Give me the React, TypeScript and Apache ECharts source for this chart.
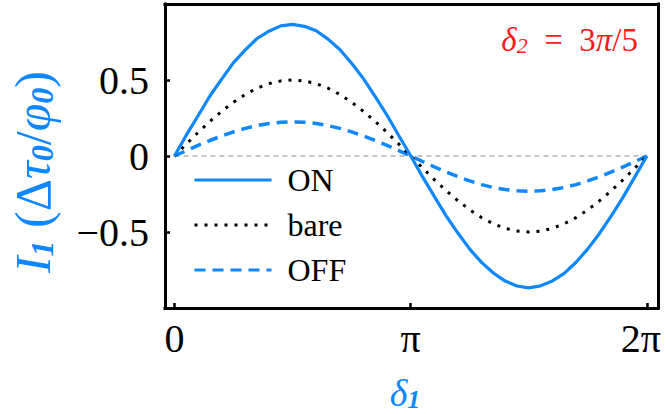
import React, { useEffect, useRef } from "react";
import * as echarts from "echarts";

// delta_1 in units of pi
const delta1: number[] = [
  0, 0.05, 0.1, 0.15, 0.2, 0.25, 0.3, 0.35, 0.4, 0.45, 0.5, 0.55, 0.6, 0.65, 0.7, 0.75, 0.8, 0.85, 0.9, 0.95, 1.0,
  1.05, 1.1, 1.15, 1.2, 1.25, 1.3, 1.35, 1.4, 1.45, 1.5, 1.55, 1.6, 1.65, 1.7, 1.75, 1.8, 1.85, 1.9, 1.95, 2.0,
];

const onValues: number[] = [
  0, 0.137, 0.265, 0.395, 0.506, 0.614, 0.698, 0.773, 0.821, 0.856, 0.866, 0.853, 0.824, 0.769, 0.701, 0.61, 0.509,
  0.391, 0.268, 0.133, 0.002, -0.136, -0.266, -0.394, -0.507, -0.613, -0.7, -0.77, -0.823, -0.855, -0.868, -0.854,
  -0.822, -0.772, -0.699, -0.611, -0.508, -0.392, -0.269, -0.134, 0,
];

const bareValues: number[] = [
  0, 0.078, 0.155, 0.227, 0.294, 0.354, 0.405, 0.446, 0.476, 0.494, 0.5, 0.494, 0.476, 0.446, 0.405, 0.354, 0.294,
  0.227, 0.155, 0.078, 0, -0.078, -0.155, -0.227, -0.294, -0.354, -0.405, -0.446, -0.476, -0.494, -0.5, -0.494,
  -0.476, -0.446, -0.405, -0.354, -0.294, -0.227, -0.155, -0.078, 0,
];

const offValues: number[] = [
  0, 0.035, 0.07, 0.102, 0.132, 0.159, 0.182, 0.2, 0.214, 0.222, 0.225, 0.222, 0.214, 0.2, 0.182, 0.159, 0.132, 0.102,
  0.07, 0.035, 0, -0.036, -0.072, -0.105, -0.136, -0.164, -0.188, -0.207, -0.221, -0.229, -0.232, -0.229, -0.221,
  -0.207, -0.188, -0.164, -0.136, -0.105, -0.072, -0.036, 0,
];

const zeroLineX: number[] = [0, 2];
const xTicks: number[] = [0, 1, 2];
const xTickLabels: string[] = ["0", "π", "2π"];
const yTicks: number[] = [-0.5, 0, 0.5];
const yTickLabels: string[] = ["−0.5", "0", "0.5"];

const BLUE = "#0f87ff";
const RED = "#ff1a1a";
const FONT = "Liberation Serif";

export default function App() {
  const ref = useRef<HTMLDivElement>(null);
  useEffect(() => {
    document.body.style.margin = "0";
    if (!ref.current) return;
    const chart = echarts.init(ref.current, null, { renderer: "svg" });
    const pair = (ys: number[]) => delta1.map((x, i) => [x, ys[i]]);
    const frameLine = () => ({ show: true, onZero: false, lineStyle: { color: "#000", width: 3, cap: "square" } });
    const tickStyle = { color: "#000", width: 2.5 };
    chart.setOption({
      animation: false,
      grid: { left: 165, right: 7, top: 4, bottom: 106, outerBoundsMode: "none", containLabel: false },
      xAxis: [
        {
          type: "value",
          position: "bottom",
          min: -0.04,
          max: 2.047,
          axisLine: frameLine(),
          splitLine: { show: false },
          axisTick: { show: true, inside: true, length: 5, lineStyle: tickStyle, customValues: xTicks },
          axisLabel: {
            customValues: xTicks,
            formatter: (v: number) => {
              const i = xTicks.findIndex((t) => Math.abs(t - v) < 1e-6);
              if (i < 0) return "";
              return i === 2 ? "{r|" + xTickLabels[i] + "}" : xTickLabels[i];
            },
            fontSize: 40,
            fontFamily: FONT,
            color: "#000",
            margin: 10,
            rich: { r: { fontSize: 40, fontFamily: FONT, color: "#000", padding: [0, 12, 0, 0] } },
          },
        },
        {
          type: "value",
          position: "top",
          min: -0.04,
          max: 2.047,
          axisLine: frameLine(),
          splitLine: { show: false },
          axisTick: { show: false },
          axisLabel: { show: false },
        },
      ],
      yAxis: [
        {
          type: "value",
          position: "left",
          min: -1,
          max: 1,
          axisLine: frameLine(),
          splitLine: { show: false },
          axisTick: { show: true, inside: true, length: 5, lineStyle: tickStyle, customValues: yTicks },
          axisLabel: {
            customValues: yTicks,
            formatter: (v: number) => {
              const i = yTicks.findIndex((t) => Math.abs(t - v) < 1e-6);
              return i >= 0 ? yTickLabels[i] : "";
            },
            fontSize: 40,
            fontFamily: FONT,
            color: "#000",
            margin: 16,
          },
        },
        {
          type: "value",
          position: "right",
          min: -1,
          max: 1,
          axisLine: frameLine(),
          splitLine: { show: false },
          axisTick: { show: false },
          axisLabel: { show: false },
        },
      ],
      legend: {
        data: ["ON", "bare", "OFF"],
        orient: "vertical",
        left: 193,
        top: 164,
        padding: 0,
        itemWidth: 77,
        itemHeight: 14,
        itemGap: 13,
        itemStyle: { opacity: 0 },
        lineStyle: { width: 3 },
        textStyle: {
          fontSize: 32,
          lineHeight: 32,
          fontFamily: FONT,
          color: "#000",
          padding: [0, 0, 0, 11],
        },
      },
      series: [
        {
          name: "zero",
          type: "line",
          data: zeroLineX.map((x) => [x, 0]),
          symbol: "none",
          lineStyle: { color: "#8a8a8a", width: 1, type: [5, 4] },
          z: 1,
          silent: true,
        },
        {
          name: "ON",
          type: "line",
          data: pair(onValues),
          symbol: "none",
          color: BLUE,
          lineStyle: { color: BLUE, width: 3.2 },
          z: 4,
        },
        {
          name: "bare",
          type: "line",
          data: pair(bareValues),
          symbol: "none",
          color: "#000",
          lineStyle: { color: "#000", width: 3, type: [3, 7] },
          z: 3,
        },
        {
          name: "OFF",
          type: "line",
          data: pair(offValues),
          symbol: "none",
          color: BLUE,
          lineStyle: { color: BLUE, width: 3.5, type: [11, 7] },
          z: 2,
        },
      ],
      graphic: [
        {
          type: "text",
          x: 33,
          y: 172,
          rotation: Math.PI / 2,
          style: {
            text: "{i|I}{s|1}{n| (}{n|Δ}{i|τ}{s|0}{n|/}{i|φ}{s|0}{n|)}",
            align: "center",
            verticalAlign: "middle",
            fill: BLUE,
            fontWeight: "normal",
            rich: {
              i: { fontSize: 50, fontStyle: "italic", fontWeight: "normal", fontFamily: FONT, fill: BLUE, lineHeight: 50 },
              n: { fontSize: 50, fontWeight: "normal", fontFamily: FONT, fill: BLUE, lineHeight: 50 },
              s: {
                fontSize: 32,
                fontStyle: "italic",
                fontWeight: "bold",
                fontFamily: FONT,
                fill: BLUE,
                lineHeight: 22,
                verticalAlign: "bottom",
              },
            },
          },
        },
        {
          type: "text",
          x: 405,
          y: 393,
          style: {
            text: "{i|δ}{s|1}",
            align: "center",
            verticalAlign: "middle",
            fill: BLUE,
            rich: {
              i: { fontSize: 38, fontStyle: "italic", fontFamily: FONT, fill: BLUE, lineHeight: 38 },
              s: {
                fontSize: 26,
                fontStyle: "italic",
                fontWeight: "bold",
                fontFamily: FONT,
                fill: BLUE,
                lineHeight: 16,
                verticalAlign: "bottom",
              },
            },
          },
        },
        {
          type: "text",
          x: 638,
          y: 40,
          style: {
            text: "{i|δ}{s|2}{n|  =  3}{i|π}{n|/5}",
            align: "right",
            verticalAlign: "middle",
            fill: RED,
            rich: {
              i: { fontSize: 33, fontStyle: "italic", fontFamily: FONT, fill: RED, lineHeight: 33 },
              n: { fontSize: 33, fontFamily: FONT, fill: RED, lineHeight: 33 },
              s: {
                fontSize: 22,
                fontStyle: "italic",
                fontFamily: FONT,
                fill: RED,
                lineHeight: 14,
                verticalAlign: "bottom",
              },
            },
          },
        },
      ],
    });
    return () => chart.dispose();
  }, []);
  return <div ref={ref} style={{ width: 665, height: 414 }} />;
}
